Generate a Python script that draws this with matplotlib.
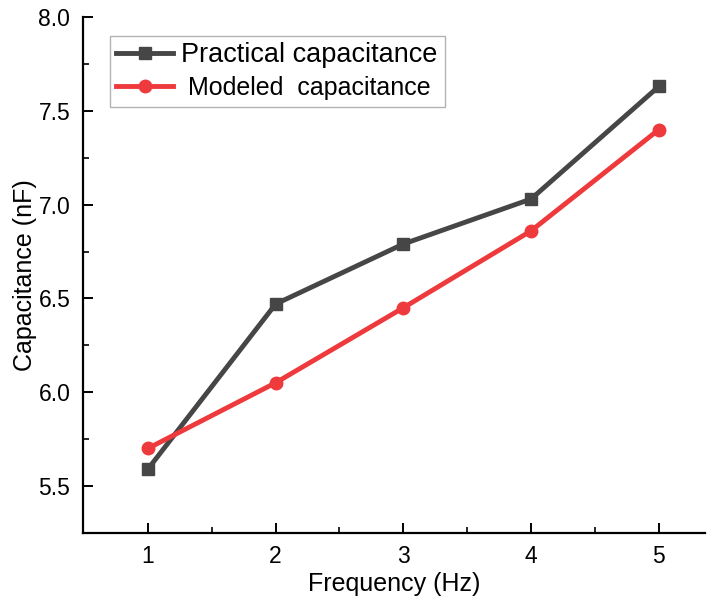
import matplotlib.pyplot as plt

plt.rcParams["font.family"] = ["Liberation Sans", "DejaVu Sans"]

# Measured vs. modelled capacitance over frequency
frequency = [1, 2, 3, 4, 5]
practical = [5.59, 6.47, 6.79, 7.03, 7.63]
modeled = [5.70, 6.05, 6.45, 6.86, 7.40]

fig = plt.figure(figsize=(7.14, 6.11), dpi=100)
ax = fig.add_axes([0.116, 0.128, 0.871, 0.844])

ax.plot(frequency, practical, color="#464646", linewidth=3.5, marker="s",
        markersize=8, label="Practical capacitance")
ax.plot(frequency, modeled, color="#ee3a3c", linewidth=3.5, marker="o",
        markersize=9, label=" Modeled  capacitance")

ax.set_xlim(0.49, 5.36)
ax.set_ylim(5.25, 8.0)
ax.set_xticks(frequency)
ax.set_yticks([5.5, 6.0, 6.5, 7.0, 7.5, 8.0])
ax.set_xticks([1.5, 2.5, 3.5, 4.5], minor=True)
ax.set_yticks([5.75, 6.25, 6.75, 7.25, 7.75], minor=True)

ax.spines["top"].set_visible(False)
ax.spines["right"].set_visible(False)
ax.spines["left"].set_linewidth(1.6)
ax.spines["bottom"].set_linewidth(1.6)
ax.tick_params(which="major", direction="in", length=7, width=1.4, labelsize=16.5, pad=9)
ax.tick_params(which="minor", direction="in", length=4, width=1.2)

ax.set_xlabel("Frequency (Hz)", fontsize=18, labelpad=3)
ax.set_ylabel("Capacitance (nF)", fontsize=18, labelpad=1)

leg = ax.legend(loc="upper left", bbox_to_anchor=(0.03, 0.98), fontsize=19.5,
                frameon=True, fancybox=False, edgecolor="#a0a0a0",
                handlelength=2.1, handletextpad=0.3, borderpad=0.25,
                borderaxespad=0.3, labelspacing=0.3)
leg.get_frame().set_linewidth(1.0)
leg.get_texts()[1].set_fontsize(18)

fig.savefig("out.png", dpi=100)
